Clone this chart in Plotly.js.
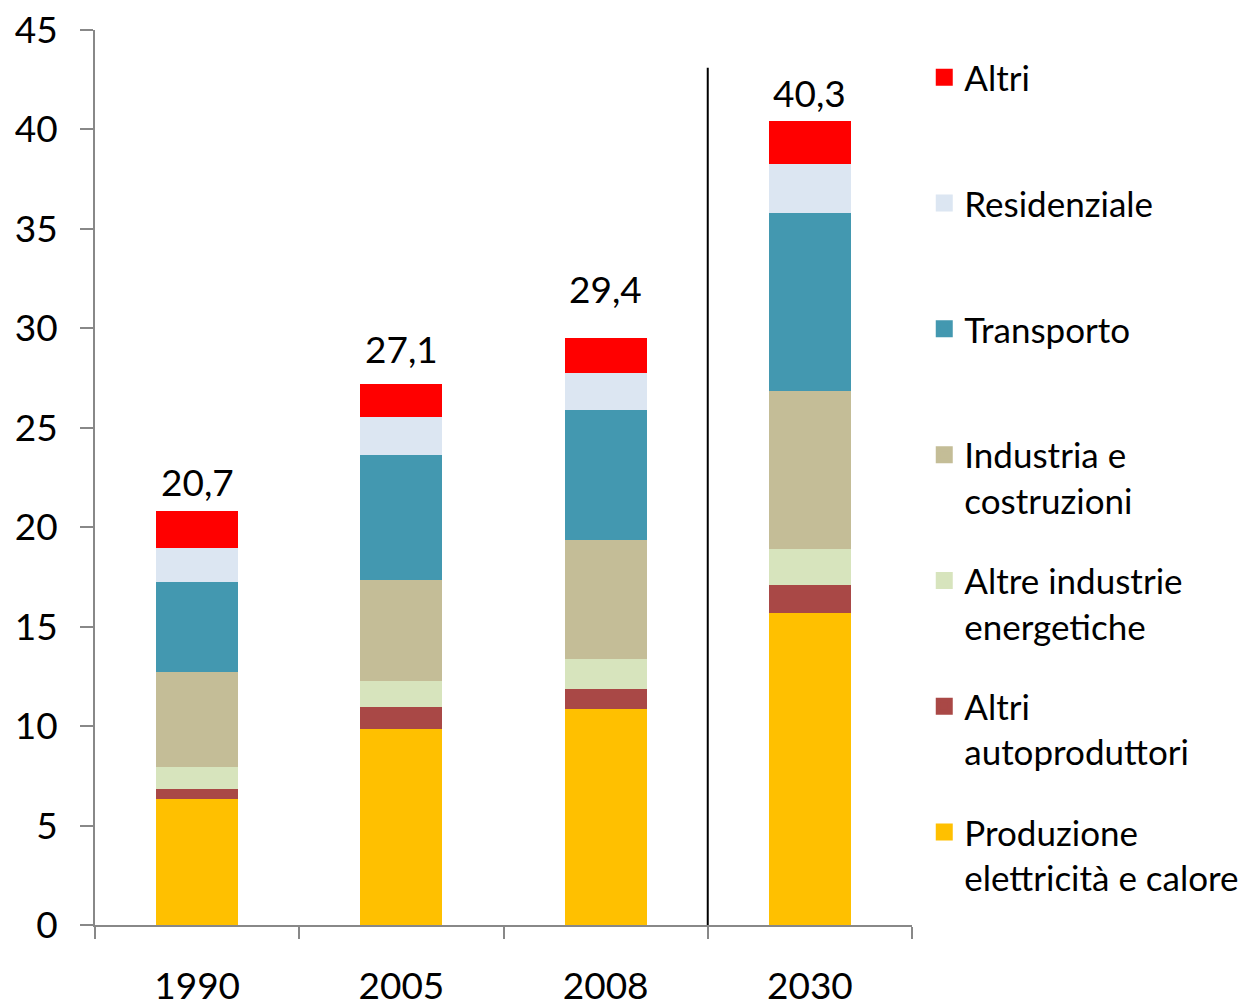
<!DOCTYPE html>
<html>
<head>
<meta charset="utf-8">
<script src="https://cdn.plot.ly/plotly-3.0.1.min.js"></script>
<style>
    body { margin: 0; background: #fff; }
    #chart { width: 1248px; height: 1007px; }
    #err { position: absolute; left: 10px; top: 10px; font: 14px monospace; color: #c00; }
</style>
</head>
<body>
<div id="chart"></div>
<div id="err"></div>
<script>
"use strict";

window.onerror = function (msg) {
    document.getElementById("err").textContent += " " + msg;
};

// years on the x axis
var years = ["1990", "2005", "2008", "2030"];

// sector series, bottom to top of each stack
var produzione = [6.45, 10.0, 11.0, 15.8];
var altriAutoproduttori = [0.5, 1.1, 1.0, 1.4];
var altreIndustrie = [1.1, 1.3, 1.5, 1.85];
var industria = [4.8, 5.05, 6.0, 7.95];
var transporto = [4.5, 6.3, 6.5, 8.9];
var residenziale = [1.75, 1.9, 1.9, 2.5];
var altri = [1.6, 1.45, 1.5, 1.9];

var seriesNames = [
    "Produzione<br>elettricità e calore",
    "Altri<br>autoproduttori",
    "Altre industrie<br>energetiche",
    "Industria e<br>costruzioni",
    "Transporto",
    "Residenziale",
    "Altri"
];
var seriesValues = [produzione, altriAutoproduttori, altreIndustrie, industria, transporto, residenziale, altri];
var seriesColors = ["#FFC000", "#A94846", "#D7E4BD", "#C4BD97", "#4398B0", "#DCE6F2", "#FF0000"];

var fontFamily = "Lato, 'Open Sans', sans-serif";
var axisColor = "#888888";

function LegendId(slot) {
    return "legend" + (slot + 2);
}

function BuildTraces() {
    var traces = [];
    for (let i = 0; i < seriesValues.length; i++) {
        traces.push({
            type: "bar",
            name: seriesNames[i],
            x: years,
            y: seriesValues[i],
            width: 0.377,
            marker: { color: seriesColors[i], line: { color: seriesColors[i], width: 5 } },
            legend: LegendId(seriesValues.length - 1 - i),
            hoverinfo: "none"
        });
    }
    return traces;
}

// totals written above each stack, with comma as decimal sign
function TotalLabels() {
    var lift = [7, 13, 27, 6];
    var notes = [];
    for (let j = 0; j < years.length; j++) {
        var sum = 0;
        for (let s of seriesValues) sum += s[j];
        notes.push({
            x: j, y: sum, xref: "x", yref: "y",
            text: sum.toFixed(1).replace(".", ","),
            showarrow: false, yanchor: "bottom", yshift: lift[j],
            font: { family: fontFamily, size: 37, color: "#000" }
        });
    }
    return notes;
}

var layout = {
    width: 1248,
    height: 1007,
    margin: { l: 95, r: 336, t: 30, b: 82, autoexpand: false },
    barmode: "stack",
    showlegend: true,
    paper_bgcolor: "#fff",
    plot_bgcolor: "#fff",
    font: { family: fontFamily, color: "#000" },
    xaxis: {
        type: "category",
        range: [-0.5, 3.5],
        tickson: "boundaries",
        ticks: "outside", ticklen: 12, tickwidth: 2, tickcolor: axisColor,
        showline: true, linecolor: axisColor, linewidth: 2,
        showgrid: false, automargin: false,
        ticklabelstandoff: 28,
        tickfont: { family: fontFamily, size: 37, color: "#000" }
    },
    yaxis: {
        range: [0, 45], dtick: 5,
        ticks: "outside", ticklen: 13, tickwidth: 2, tickcolor: axisColor,
        showline: true, linecolor: axisColor, linewidth: 2,
        showgrid: false, zeroline: false, automargin: false,
        ticklabelstandoff: 15,
        tickfont: { family: fontFamily, size: 37, color: "#000" }
    },
    shapes: [{
        type: "line", xref: "x", yref: "y",
        x0: 2.5, x1: 2.5, y0: 0, y1: 43.1,
        line: { color: "#000", width: 2 }
    }],
    annotations: TotalLabels()
};

// one legend per series so the entries keep an even step
for (let k = 0; k < seriesNames.length; k++) {
    var centre = 74 + k * 125.8;
    layout[LegendId(k)] = {
        x: 1.015, xanchor: "left",
        y: (925 - (centre - 26)) / 895, yanchor: "top",
        xref: "paper", yref: "paper",
        valign: "top",
        bgcolor: "rgba(0,0,0,0)",
        font: { family: fontFamily, size: 35, color: "#000" }
    };
}

Plotly.newPlot("chart", BuildTraces(), layout, { displayModeBar: false, staticPlot: true })
    .catch(function (e) { document.getElementById("err").textContent += " " + e; });
</script>
</body>
</html>
